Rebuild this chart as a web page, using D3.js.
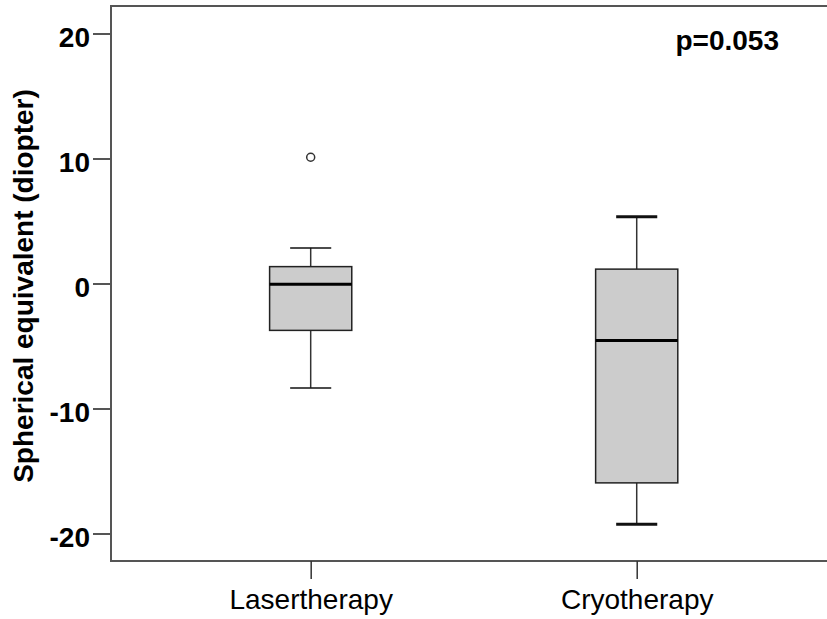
<!DOCTYPE html>
<html>
<head>
<meta charset="utf-8">
<script src="https://cdn.jsdelivr.net/npm/d3@7"></script>
<style>
  body { margin: 0; background: #fff; }
  text { font-family: "Liberation Sans", Arial, sans-serif; }
</style>
</head>
<body>
<svg id="chart"></svg>
<script>
w = 827;
h = 619;

// groups and box statistics
var groups = ["Lasertherapy", "Cryotherapy"];
var whiskerLow  = [-8.35, -19.25];
var q1          = [-3.75, -15.95];
var median      = [-0.05, -4.55];
var q3          = [1.35, 1.15];
var whiskerHigh = [2.85, 5.35];
var outliers    = [[10.1], []];
var yTicks = [-20, -10, 0, 10, 20];
var pLabel = "p=0.053";

var svg = d3.select('#chart').attr('width', w).attr('height', h);

var x = d3.scalePoint().domain(groups).range([111, 836.4]).padding(0.6125);
var y = d3.scaleLinear().domain([-22.2, 22.2]).range([561, 6]);

var boxW = x.step() * 0.252;
var capW = boxW * 0.5;

// frame
svg.append('rect')
    .attr('x', 111).attr('y', 6)
    .attr('width', 740).attr('height', 555)
    .attr('fill', 'none')
    .attr('stroke', '#555')
    .attr('stroke-width', 2);

// y axis (plain hyphen for negatives, like the original)
var yAxis = d3.axisLeft(y).tickValues(yTicks).tickSize(18).tickPadding(3)
    .tickFormat(function(d) { return String(d); });
var gy = svg.append('g').attr('transform', 'translate(111,0)').call(yAxis);
gy.select('.domain').remove();
gy.selectAll('.tick line').attr('stroke', '#555').attr('stroke-width', 2);
gy.selectAll('.tick text')
    .attr('fill', '#000')
    .attr('dy', '0.45em')
    .style('font-size', '28px')
    .style('font-weight', 'bold');

// x axis
var xAxis = d3.axisBottom(x).tickSize(18).tickPadding(10);
var gx = svg.append('g').attr('transform', 'translate(0,561)').call(xAxis);
gx.select('.domain').remove();
gx.selectAll('.tick line').attr('stroke', '#333').attr('stroke-width', 1.5);
gx.selectAll('.tick text')
    .attr('fill', '#000')
    .style('font-size', '28px');

// boxes
groups.forEach(function(g, i) {
  var cx = x(g);
  var b = svg.append('g');
  // whisker stems
  b.append('line')
      .attr('x1', cx).attr('x2', cx)
      .attr('y1', y(q3[i])).attr('y2', y(whiskerHigh[i]))
      .attr('stroke', '#333').attr('stroke-width', 1.5);
  b.append('line')
      .attr('x1', cx).attr('x2', cx)
      .attr('y1', y(q1[i])).attr('y2', y(whiskerLow[i]))
      .attr('stroke', '#333').attr('stroke-width', 1.5);
  // caps
  [whiskerHigh[i], whiskerLow[i]].forEach(function(v) {
    b.append('line')
        .attr('x1', cx - capW / 2).attr('x2', cx + capW / 2)
        .attr('y1', y(v)).attr('y2', y(v))
        .attr('stroke', '#111').attr('stroke-width', i == 1 ? 3 : 1.5);
  });
  // box
  b.append('rect')
      .attr('x', cx - boxW / 2)
      .attr('y', y(q3[i]))
      .attr('width', boxW)
      .attr('height', y(q1[i]) - y(q3[i]))
      .attr('fill', '#cccccc')
      .attr('stroke', '#222')
      .attr('stroke-width', 1.5);
  // median
  b.append('line')
      .attr('x1', cx - boxW / 2).attr('x2', cx + boxW / 2)
      .attr('y1', y(median[i])).attr('y2', y(median[i]))
      .attr('stroke', '#000').attr('stroke-width', 3);
  // outliers
  outliers[i].forEach(function(v) {
    b.append('circle')
        .attr('cx', cx).attr('cy', y(v)).attr('r', 4)
        .attr('fill', 'none')
        .attr('stroke', '#333').attr('stroke-width', 1.5);
  });
});

// y label
svg.append('text')
    .attr('transform', 'translate(33,286) rotate(-90)')
    .attr('text-anchor', 'middle')
    .style('font-size', '28px')
    .style('font-weight', 'bold')
    .text('Spherical equivalent (diopter)');

// p-value
svg.append('text')
    .attr('x', 779).attr('y', 50)
    .attr('text-anchor', 'end')
    .style('font-size', '28px')
    .style('font-weight', 'bold')
    .text(pLabel);
</script>
</body>
</html>
